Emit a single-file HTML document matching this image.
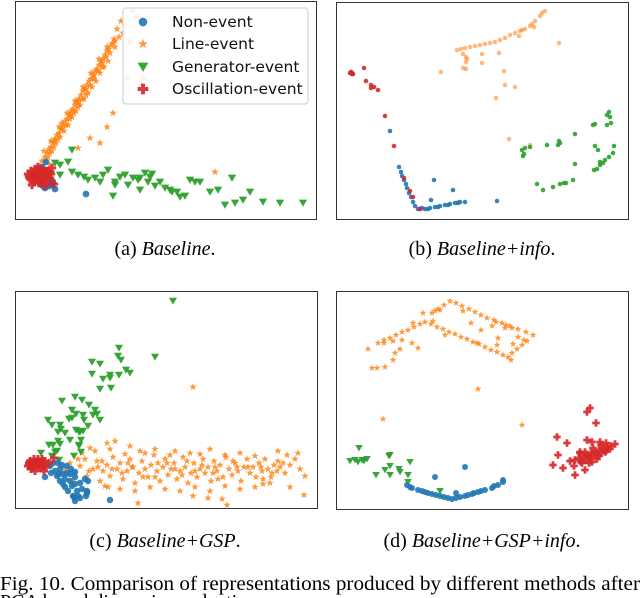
<!DOCTYPE html>
<html><head><meta charset="utf-8"><style>
html,body{margin:0;padding:0;background:#fff;width:640px;height:598px;overflow:hidden}
svg{display:block}
.cap{font-family:"Liberation Serif",serif;font-size:20px;fill:#000}
.leg{font-family:"DejaVu Sans","Liberation Sans",sans-serif;font-size:15.5px;fill:#111}
</style></head><body>
<svg id="fig" width="640" height="598" viewBox="0 0 640 598" xmlns="http://www.w3.org/2000/svg">
<g id="pa"></g>
<g id="pb"></g>
<g id="pc"></g>
<g id="pd"></g>
<g>
<rect x="123" y="8" width="185" height="96" rx="3" fill="#fff" fill-opacity="0.85" stroke="#ccc"/>
<g id="legmarks"></g>
<text class="leg" x="172" y="27">Non-event</text>
<text class="leg" x="172" y="49">Line-event</text>
<text class="leg" x="172" y="72">Generator-event</text>
<text class="leg" x="172" y="94">Oscillation-event</text>
</g>
<text class="cap" x="165" y="255" text-anchor="middle">(a) <tspan font-style="italic">Baseline</tspan>.</text>
<text class="cap" x="482" y="255" text-anchor="middle">(b) <tspan font-style="italic">Baseline+info</tspan>.</text>
<text class="cap" x="165" y="547" text-anchor="middle">(c) <tspan font-style="italic">Baseline+GSP</tspan>.</text>
<text class="cap" x="482" y="547" text-anchor="middle">(d) <tspan font-style="italic">Baseline+GSP+info</tspan>.</text>
<text class="cap" x="0" y="590" textLength="640" lengthAdjust="spacingAndGlyphs">Fig. 10.  Comparison of representations produced by different methods after</text>
<text class="cap" x="0" y="608">PCA based dimension reduction.</text>
</svg>
<script>
const aOrange=[[27,160],[30,156],[32,152],[34,148],[36,146],[38,142],[40,138],[42,134],[44,132],[46,128],[48,124],[50,120],[52,118],[54,114],[56,110],[58,108],[60,104],[62,100],[64,98],[66,94],[68,90],[70,88],[72,84],[74,80],[76,78],[78,74],[80,70],[82,68],[84,64],[86,60],[88,58],[90,54],[92,50],[94,48],[96,44],[98,42],[100,40],[104,36],[108,32],[33,156],[37,150],[41,142],[45,136],[49,130],[53,124],[57,116],[61,110],[65,104],[69,98],[73,92],[77,86],[81,80],[85,72],[89,66],[93,60],[36,140],[44,126],[52,112],[60,100],[68,86],[76,72],[84,58],[92,46],[29,150],[31,160],[39,146],[47,122],[55,118],[63,106],[71,94],[79,78],[87,66],[95,52],[100,46],[102,28],[110,24],[106,20],[118,10],[115,40],[122,16],[35,152],[43,138],[51,124],[59,112],[67,98],[75,84],[83,70],[91,56],[99,38],[39,140],[47,128],[55,114],[63,102],[71,88],[79,74],[87,62],[63,147],[85,142],[92,126],[98,112],[75,137],[200,171],[35,164],[112,77],[128,77]];
const aGreen=[[53,161],[57,171],[63,174],[69,176],[73,179],[80,177],[85,181],[88,174],[100,181],[105,176],[110,174],[113,184],[118,177],[123,179],[130,172],[133,181],[135,176],[140,185],[145,181],[150,187],[157,191],[162,191],[165,196],[175,179],[180,181],[185,181],[195,191],[203,189],[210,204],[217,177],[220,202],[235,191],[228,199],[248,201],[265,202],[288,202],[45,174],[40,162],[36,173],[93,169],[100,184],[125,189],[137,173],[155,189],[170,195],[125,177],[98,195],[57,149],[45,164]];
const aRed=[[13,173],[15,178],[16,170],[18,175],[19,181],[20,168],[21,173],[22,178],[24,171],[24,182],[26,175],[27,168],[28,179],[29,172],[31,176],[32,182],[33,170],[35,177],[17,184],[23,166],[30,185],[36,173],[14,176],[20,177],[26,180],[18,172],[22,170],[28,174],[31,170],[25,176],[37,167],[39,183]];
const aBlue=[[25,183],[28,185],[30,187],[34,185],[37,184],[38,181],[40,188],[33,178],[36,180],[71,193],[31,161],[27,166]];

const bRed=[[16,71],[15,70],[17,72],[16,72],[14,71],[28,66],[30,79],[35,83],[35,86],[38,85],[42,88],[49,114],[58,144],[68,176],[74,189],[77,195],[84,207]];
const bBlue=[[54,129],[63,165],[65,170],[68,178],[70,182],[73,191],[75,195],[77,200],[79,204],[82,207],[84,207],[89,207],[94,206],[99,205],[104,204],[109,203],[114,202],[119,201],[124,200],[129,200],[98,178],[117,188],[95,198],[161,199],[86,206],[92,207],[102,205],[112,203],[122,201],[66,174],[71,186]];
const bOrange=[[121,48],[129,46],[139,44],[149,42],[159,40],[164,38],[169,36],[174,33],[179,31],[184,29],[189,27],[194,24],[199,19],[204,14],[209,9],[125,47],[134,45],[144,43],[154,41],[186,28],[196,22],[206,11],[105,70],[127,52],[130,55],[130,60],[131,57],[127,66],[130,67],[146,52],[146,61],[163,51],[168,69],[169,83],[160,96],[179,85],[183,34],[198,25],[223,41],[173,137],[194,143],[122,200]];
const bGreen=[[186,148],[188,152],[187,154],[189,146],[194,145],[211,143],[222,143],[223,139],[224,141],[239,132],[257,123],[259,122],[271,113],[273,110],[274,115],[271,123],[275,121],[259,144],[262,148],[278,144],[277,151],[273,155],[269,158],[267,161],[264,163],[261,167],[258,168],[264,160],[239,162],[237,178],[230,181],[228,181],[224,182],[217,185],[201,182],[207,188]];

const cGreen=[[158,10],[104,57],[103,65],[140,66],[106,69],[77,71],[85,73],[77,83],[88,88],[95,87],[95,84],[104,84],[111,79],[115,82],[96,97],[85,98],[47,110],[67,109],[60,106],[74,114],[82,123],[78,124],[61,123],[80,119],[85,129],[73,135],[69,129],[57,127],[54,128],[45,134],[50,142],[46,138],[33,129],[37,134],[43,141],[43,150],[38,154],[64,141],[68,140],[66,149],[65,141],[55,149],[61,139],[68,124],[64,154],[57,119],[45,153],[42,160],[37,165],[40,161],[26,162],[34,154],[66,161],[44,169],[64,155],[59,165]];
const cOrange=[[50,178],[55,172],[60,182],[65,175],[70,168],[72,185],[78,178],[82,170],[85,190],[88,180],[92,174],[95,185],[98,166],[102,178],[105,172],[108,188],[112,180],[115,168],[118,176],[120,192],[124,182],[127,170],[130,178],[133,186],[136,174],[139,164],[142,180],[145,190],[148,176],[150,168],[153,184],[156,178],[159,172],[162,188],[165,180],[168,166],[170,176],[173,192],[176,182],[179,172],[182,186],[185,178],[188,168],[190,182],[193,176],[196,190],[199,170],[202,180],[205,174],[208,186],[211,166],[214,178],[217,184],[220,172],[223,180],[226,190],[229,176],[232,168],[235,182],[238,176],[241,186],[244,172],[247,180],[250,168],[253,178],[256,186],[259,174],[262,180],[265,176],[270,182],[275,174],[280,168],[285,178],[67,162],[80,160],[95,158],[110,163],[125,160],[140,158],[160,160],[175,162],[195,158],[210,164],[225,162],[90,195],[105,198],[120,200],[135,196],[150,198],[165,200],[180,196],[195,200],[210,195],[225,198],[240,196],[255,192],[100,150],[92,152],[75,157],[115,155],[130,162],[155,164],[185,163],[57,190],[63,168],[74,180],[97,178],[117,176],[143,172],[167,184],[187,174],[203,188],[218,170],[233,176],[248,188],[263,170],[272,164],[283,162],[290,185],[257,182],[263,160],[240,165],[178,205],[193,207],[123,212],[207,208],[212,214],[275,196],[248,193],[178,96],[289,204],[93,196],[83,176],[107,182],[128,186],[152,172],[172,170],[198,182],[222,176],[246,176],[268,172],[140,186],[160,178],[180,180],[200,176],[113,172],[87,170]];
const cRed=[[13,175],[15,170],[16,178],[18,173],[19,168],[20,180],[22,174],[23,168],[25,177],[26,171],[28,175],[29,180],[30,170],[17,176],[21,171],[24,173],[27,168],[14,172],[31,175],[34,172],[39,167]];
const cBlue=[[35,175],[40,180],[42,185],[45,178],[48,183],[50,188],[52,182],[55,190],[57,195],[60,186],[62,200],[65,192],[58,205],[53,200],[48,193],[45,190],[50,196],[55,183],[60,193],[67,198],[70,188],[47,174],[52,175],[43,172],[38,172],[56,178],[63,205],[60,210],[72,200],[65,207],[73,190],[44,183],[71,205],[30,186],[36,182],[60,181],[72,202],[95,209],[59,206]];

const dOrange=[[42,52],[48,49],[54,47],[60,44],[66,41],[72,39],[78,36],[84,33],[89,31],[95,33],[101,36],[107,38],[113,41],[119,43],[125,46],[131,48],[137,51],[143,53],[149,56],[155,59],[161,61],[167,64],[172,66],[176,62],[181,58],[186,54],[191,50],[197,44],[190,41],[182,38],[174,35],[166,32],[158,29],[151,27],[145,24],[139,21],[133,18],[126,15],[120,12],[114,10],[108,14],[102,18],[96,22],[32,58],[41,77],[49,76],[57,69],[57,50],[59,62],[66,49],[76,52],[82,57],[64,58],[36,77],[99,20],[109,44],[135,32],[141,52],[161,54],[175,69],[169,37],[176,37],[182,46],[177,53],[188,49],[145,39],[162,47],[104,19],[77,32],[87,22],[48,52],[142,98],[47,128],[186,134],[97,30],[160,31],[170,34],[156,35],[127,20]];
const dRed=[[239,169],[243,167],[247,166],[251,164],[255,162],[259,161],[263,159],[267,158],[271,156],[275,155],[279,153],[245,171],[250,169],[255,166],[260,164],[265,162],[270,160],[274,158],[249,161],[257,157],[265,154],[270,152],[253,172],[261,168],[244,162],[238,175],[234,170],[251,121],[254,117],[260,132],[221,146],[231,152],[222,164],[227,177],[239,184],[217,174],[246,172],[251,149],[253,166],[264,151],[269,161],[244,161],[249,179],[256,171],[263,165],[256,151]];
const dGreen=[[22,171],[14,170],[19,169],[26,169],[31,168],[28,170],[40,184],[53,165],[54,175],[49,179],[54,184],[63,178],[74,171],[72,184],[64,181],[72,191],[23,157],[54,164],[104,200]];
const dBlue=[[71,194],[76,197],[82,199],[89,201],[96,203],[104,205],[112,207],[116,208],[124,206],[129,205],[136,203],[142,201],[149,199],[156,197],[162,194],[167,191],[167,189],[74,196],[86,200],[100,204],[108,206],[120,207],[132,204],[145,200],[158,195],[92,202],[138,202],[99,186],[129,176],[120,202]];

const C={blue:'#1f77b4',orange:'#ff7f0e',green:'#2ca02c',red:'#d62728'};
const NS='http://www.w3.org/2000/svg';
function mk(tag,attrs){const e=document.createElementNS(NS,tag);for(const k in attrs)e.setAttribute(k,attrs[k]);return e;}
function shape(kind,x,y,s,dots){
  if(kind==='blue'||dots)return mk('circle',{cx:x,cy:y,r:2.4*s,fill:C[kind],'fill-opacity':kind==='orange'?0.55:0.9});
  if(kind==='orange'){let p='';for(let i=0;i<10;i++){const r=(i%2?1.2:2.9)*s,a=-Math.PI/2+i*Math.PI/5;p+=(i?'L':'M')+(x+r*Math.cos(a)).toFixed(2)+' '+(y+r*Math.sin(a)).toFixed(2);}return mk('path',{d:p+'Z',fill:C.orange,'fill-opacity':0.8});}
  if(kind==='green'){const h=3*s;return mk('path',{d:`M${x-h} ${y-h*0.8}L${x+h} ${y-h*0.8}L${x} ${y+h*0.9}Z`,fill:C.green,'fill-opacity':0.95});}
  const w=3*s,t=1.1*s;return mk('path',{d:`M${x-t} ${y-w}H${x+t}V${y-t}H${x+w}V${y+t}H${x+t}V${y+w}H${x-t}V${y+t}H${x-w}V${y-t}H${x-t}Z`,fill:C.red,'fill-opacity':0.9});
}
function panel(id,left,top,w,h,layers,s,dots){
  const g=document.getElementById(id);
  const xs=v=>left+v*(w/w), ys=v=>top+v*(h/h);
  const frame=mk('rect',{x:left+0.5,y:top+0.5,width:w,height:h,fill:'#fff',stroke:'#333','stroke-width':1});
  
  
  g.appendChild(frame);
  layers.forEach(([kind,arr])=>{
    const lg=mk('g',{});
    
    
    arr.forEach(d=>{const m=shape(kind,xs(d[0]),ys(d[1]),s,dots);
      
      
      lg.appendChild(m);});
    g.appendChild(lg);
  });
}
panel('pa',15,1,301,218,[['orange',aOrange],['green',aGreen],['blue',aBlue],['red',aRed]],1.4,false);
panel('pb',336,2,292,217,[['orange',bOrange],['green',bGreen],['blue',bBlue],['red',bRed]],0.95,true);
panel('pc',15,291,302,217,[['orange',cOrange],['green',cGreen],['blue',cBlue],['red',cRed]],1.35,false);
panel('pd',336,291,292,218,[['orange',dOrange],['green',dGreen],['blue',dBlue],['red',dRed]],1.25,false);
const lm=document.getElementById('legmarks');
[['blue',22],['orange',44],['green',67],['red',89]].forEach(([k,y])=>{const m=shape(k,143,y,1.8,false);
  
  
  lm.appendChild(m);});
</script>
</body></html>
